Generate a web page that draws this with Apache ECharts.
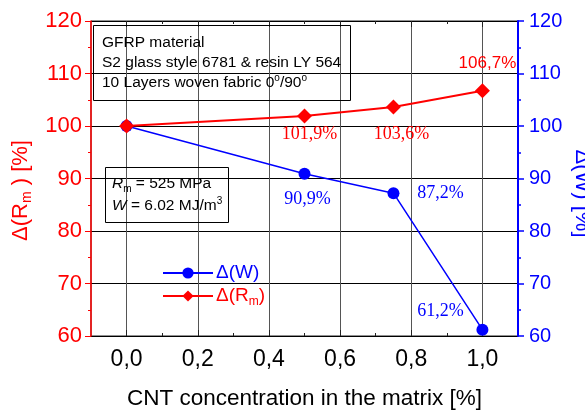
<!DOCTYPE html>
<html lang="en">
<head>
<meta charset="UTF-8">
<title>CNT concentration - GFRP</title>
<script src="https://cdn.jsdelivr.net/npm/echarts@6/dist/echarts.min.js"></script>
<style>
    html, body { margin: 0; padding: 0; background: #fff; }
    #chart { width: 585px; height: 410px; }
</style>
</head>
<body>
<div id="chart"></div>
<script>
    // data
    var cntConc = [0, 0.5, 0.75, 1.0];
    var deltaRm = [100, 101.9, 103.6, 106.7];
    var deltaW = [100, 90.9, 87.2, 61.2];
    var yTickValues = [60, 70, 80, 90, 100, 110, 120];
    var xTickValues = [0, 0.2, 0.4, 0.6, 0.8, 1.0];

    var RED = '#ff0000', BLUE = '#0000ff';
    var SANS = 'Liberation Sans, Arial, sans-serif';
    var SERIF = 'Liberation Serif, Times New Roman, serif';

    // label placement around the points (offset from the point centre)
    var rmLabelCfg = [
        null,
        {offset: [5, 18], fontFamily: SERIF},
        {offset: [8, 27], fontFamily: SERIF},
        {offset: [5, -28], fontFamily: SANS}
    ];
    var wLabelCfg = [
        null,
        {offset: [3, 25]},
        {offset: [47, 0]},
        {offset: [-42, -18]}
    ];

    function pct(v) {
        return v.toFixed(1).replace('.', ',') + '%';
    }

    function buildData(ys, cfgs, color) {
        return cntConc.map(function (x, i) {
            var item = {value: [x, ys[i]]};
            var c = cfgs[i];
            if (c) {
                item.label = {
                    show: true,
                    position: 'inside',
                    offset: c.offset,
                    formatter: pct(ys[i]),
                    color: color,
                    fontSize: c.fontFamily === SANS ? 17 : 18,
                    fontFamily: c.fontFamily || SERIF
                };
            }
            return item;
        });
    }

    var chart = echarts.init(document.getElementById('chart'));

    // main plot area spans -0.1..1.1; second grid only carries the 0..1 ticks
    var gLeft = 91, gRight = 67, gTop = 21, gBottom = 74;
    var pad = (585 - gLeft - gRight) * 0.1 / 1.2;

    var option = {
        animation: false,
        backgroundColor: '#fff',
        title: [{
            left: 93, top: 25,
            text: 'GFRP material\nS2 glass style 6781 & resin LY 564\n10 Layers woven fabric 0{sup|o}/90{sup|o}',
            borderColor: '#000', borderWidth: 1,
            padding: [8, 10, 8, 9],
            textStyle: {
                fontFamily: SANS, fontSize: 15.5, fontWeight: 'normal', color: '#000', lineHeight: 20,
                rich: {sup: {fontSize: 10, fontFamily: SANS, color: '#000', padding: [0, 0, 9, 0], lineHeight: 20}}
            }
        }, {
            left: 105, top: 167,
            text: '{it|R}{sub|m} = 525 MPa\n{it|W} = 6.02 MJ/m{sup|3}',
            borderColor: '#000', borderWidth: 1,
            padding: [6, 7, 6, 7],
            textStyle: {
                fontFamily: SANS, fontSize: 15.5, fontWeight: 'normal', color: '#000', lineHeight: 22,
                rich: {
                    it: {fontStyle: 'italic', fontSize: 15.5, fontFamily: SANS, color: '#000', lineHeight: 22},
                    sub: {fontSize: 10, fontFamily: SANS, color: '#000', padding: [10, 0, 0, 0], lineHeight: 22},
                    sup: {fontSize: 10, fontFamily: SANS, color: '#000', padding: [0, 0, 9, 0], lineHeight: 22}
                }
            }
        }],
        legend: {
            left: 157, top: 258,
            orient: 'vertical',
            itemWidth: 50, itemHeight: 14, itemGap: 1,
            data: [
                {name: 'W', textStyle: {color: BLUE}},
                {name: 'Rm', textStyle: {color: RED}}
            ],
            formatter: function (name) {
                return name === 'W' ? '\u0394(W)' : '\u0394(R{sub|m})';
            },
            textStyle: {
                fontFamily: SANS, fontSize: 19, lineHeight: 20, padding: [0, 0, 0, -2],
                rich: {sub: {fontSize: 12, color: RED, fontFamily: SANS, lineHeight: 20, padding: [12, 0, 0, 0]}}
            }
        },
        grid: [
            {left: gLeft, right: gRight, top: gTop, bottom: gBottom, outerBoundsMode: 'none', containLabel: false,
                show: true, borderColor: '#222', borderWidth: 1, backgroundColor: 'transparent'},
            {left: gLeft + pad, right: gRight + pad, top: gTop, bottom: gBottom, outerBoundsMode: 'none', containLabel: false}
        ],
        xAxis: [{
            gridIndex: 0, type: 'value', min: -0.1, max: 1.1, show: false
        }, {
            gridIndex: 1, type: 'value', min: 0, max: 1, interval: 0.2, position: 'bottom',
            name: 'CNT concentration in the matrix [%]',
            nameLocation: 'middle', nameGap: 51,
            nameTextStyle: {fontFamily: SANS, fontSize: 22.5, color: '#000'},
            axisLine: {show: false, onZero: false},
            axisTick: {inside: true, length: 6, lineStyle: {color: '#222'}},
            minorTick: {show: true, splitNumber: 2, length: 3, lineStyle: {color: '#222'}},
            axisLabel: {
                margin: 12, fontFamily: SANS, fontSize: 23, color: '#000',
                formatter: function (v) { return v.toFixed(1).replace('.', ','); }
            },
            splitLine: {show: true, lineStyle: {color: '#555', width: 1}}
        }, {
            gridIndex: 1, type: 'value', min: 0, max: 1, interval: 0.2, position: 'top',
            axisLine: {show: false, onZero: false},
            axisTick: {inside: true, length: 6, lineStyle: {color: '#222'}},
            minorTick: {show: true, splitNumber: 2, length: 3, lineStyle: {color: '#222'}},
            axisLabel: {show: false},
            splitLine: {show: false}
        }],
        yAxis: [{
            gridIndex: 0, type: 'value', min: 60, max: 120, interval: 10, position: 'left',
            name: '\u0394(R{sub|m} ) [%]',
            nameLocation: 'middle', nameRotate: 90, nameGap: 54,
            nameTextStyle: {
                fontFamily: SANS, fontSize: 22, color: RED, padding: [0, 24, 0, 0],
                rich: {sub: {fontSize: 14, color: RED, fontFamily: SANS, padding: [12, 0, 0, 0]}}
            },
            axisLine: {show: true, onZero: false, lineStyle: {color: RED, width: 1.5}},
            axisTick: {show: true, inside: false, length: 6, lineStyle: {color: RED}},
            minorTick: {show: true, splitNumber: 2, length: 3, lineStyle: {color: RED}},
            axisLabel: {margin: 9, fontFamily: SANS, fontSize: 22, color: RED},
            splitLine: {show: true, lineStyle: {color: '#000', width: 1}}
        }, {
            gridIndex: 0, type: 'value', min: 60, max: 120, interval: 10, position: 'right',
            name: '{gap| }\u0394(W) [%]',
            nameLocation: 'middle', nameRotate: -90, nameGap: 53,
            nameMoveOverlap: false,
            nameTextStyle: {
                fontFamily: SANS, fontSize: 22, color: BLUE,
                rich: {gap: {width: 30, fontSize: 22}}
            },
            axisLine: {show: true, onZero: false, lineStyle: {color: BLUE, width: 2}},
            axisTick: {show: true, inside: false, length: 6, lineStyle: {color: BLUE, width: 1.5}},
            minorTick: {show: true, splitNumber: 2, length: 3, lineStyle: {color: BLUE, width: 1.5}},
            axisLabel: {margin: 11, fontFamily: SANS, fontSize: 20, color: BLUE},
            splitLine: {show: false}
        }, {
            gridIndex: 1, type: 'value', min: 60, max: 120, show: false
        }],
        series: [{
            name: 'W', type: 'line', xAxisIndex: 0, yAxisIndex: 1,
            symbol: 'circle', symbolSize: 12,
            itemStyle: {color: BLUE},
            lineStyle: {color: BLUE, width: 1.5},
            data: buildData(deltaW, wLabelCfg, BLUE),
            z: 3
        }, {
            name: 'Rm', type: 'line', xAxisIndex: 0, yAxisIndex: 0,
            symbol: 'diamond', symbolSize: 15,
            itemStyle: {color: RED},
            lineStyle: {color: RED, width: 2},
            data: buildData(deltaRm, rmLabelCfg, RED),
            z: 4
        }]
    };
    chart.setOption(option);
</script>
</body>
</html>
